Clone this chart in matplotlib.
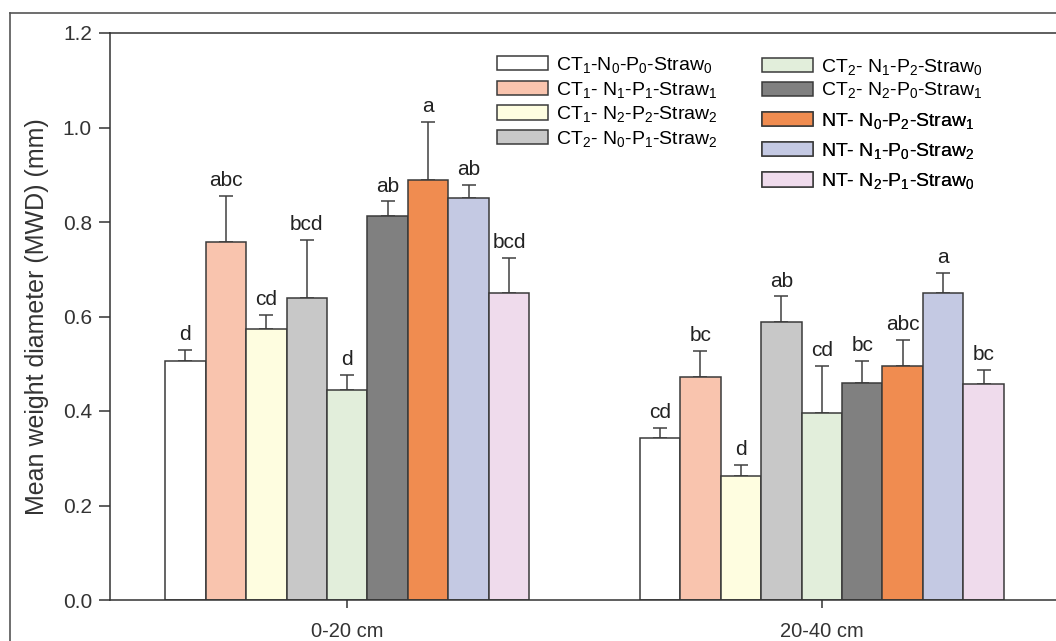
import numpy as np
import matplotlib
matplotlib.use('Agg')
import matplotlib.pyplot as plt
from matplotlib.lines import Line2D

plt.rcParams['font.family'] = ['Liberation Sans', 'DejaVu Sans']
plt.rcParams['mathtext.fontset'] = 'custom'
plt.rcParams['mathtext.rm'] = 'Liberation Sans'
plt.rcParams['mathtext.it'] = 'Liberation Sans'

# Data
depths = ['0-20 cm', '20-40 cm']
treatments = [
    r'CT$_\mathrm{1}$-N$_\mathrm{0}$-P$_\mathrm{0}$-Straw$_\mathrm{0}$',
    r'CT$_\mathrm{1}$- N$_\mathrm{1}$-P$_\mathrm{1}$-Straw$_\mathrm{1}$',
    r'CT$_\mathrm{1}$- N$_\mathrm{2}$-P$_\mathrm{2}$-Straw$_\mathrm{2}$',
    r'CT$_\mathrm{2}$- N$_\mathrm{0}$-P$_\mathrm{1}$-Straw$_\mathrm{2}$',
    r'CT$_\mathrm{2}$- N$_\mathrm{1}$-P$_\mathrm{2}$-Straw$_\mathrm{0}$',
    r'CT$_\mathrm{2}$- N$_\mathrm{2}$-P$_\mathrm{0}$-Straw$_\mathrm{1}$',
    r'NT- N$_\mathrm{0}$-P$_\mathrm{2}$-Straw$_\mathrm{1}$',
    r'NT- N$_\mathrm{1}$-P$_\mathrm{0}$-Straw$_\mathrm{2}$',
    r'NT- N$_\mathrm{2}$-P$_\mathrm{1}$-Straw$_\mathrm{0}$',
]
colors = ['#ffffff', '#f9c4ae', '#fefde0', '#c8c8c8', '#e2eedb',
          '#808080', '#f08c50', '#c4c9e3', '#efdbec']

mwd_0_20 = [0.506, 0.758, 0.574, 0.639, 0.444, 0.813, 0.889, 0.851, 0.650]
err_0_20 = [0.023, 0.097, 0.029, 0.123, 0.032, 0.031, 0.123, 0.027, 0.074]
let_0_20 = ['d', 'abc', 'cd', 'bcd', 'd', 'ab', 'a', 'ab', 'bcd']

mwd_20_40 = [0.343, 0.472, 0.262, 0.588, 0.396, 0.459, 0.495, 0.650, 0.457]
err_20_40 = [0.021, 0.055, 0.024, 0.055, 0.099, 0.047, 0.055, 0.042, 0.030]
let_20_40 = ['cd', 'bc', 'd', 'ab', 'cd', 'bc', 'abc', 'a', 'bc']

means = np.array([mwd_0_20, mwd_20_40])
errs = np.array([err_0_20, err_20_40])
letters = [let_0_20, let_20_40]

fig = plt.figure(figsize=(10.56, 6.41), dpi=100)
W, H = 1056, 641
ax = fig.add_axes([110 / W, (H - 600) / H, 949 / W, 567 / H])

x = np.arange(len(depths))
w = 0.0853
edge = '#3a3a3a'
bars = []
for i in range(len(treatments)):
    xi = x + (i - 4) * w
    b = ax.bar(xi, means[:, i], w, color=colors[i], edgecolor=edge,
               linewidth=1.1, label=treatments[i], zorder=2)
    bars.append(b)
    ax.errorbar(xi, means[:, i], yerr=[np.zeros(2), errs[:, i]], fmt='none',
                ecolor='#404040', elinewidth=1.1, capsize=5, capthick=1.1, zorder=1)
    for j in range(len(depths)):
        ax.text(xi[j], means[j, i] + errs[j, i] + 0.012, letters[j][i],
                ha='center', va='bottom', fontsize=15, color='#222222')

ax.set_xlim(-0.5, 1.5)
ax.set_ylim(0, 1.2)
ax.set_yticks(np.arange(0, 1.21, 0.2))
ax.set_yticklabels(['%.1f' % v for v in np.arange(0, 1.21, 0.2)])
ax.set_xticks(x)
ax.set_xticklabels(depths)
ax.tick_params(axis='y', direction='out', length=8, width=1.1, labelsize=15,
               colors='#333333', pad=5)
ax.tick_params(axis='x', direction='out', length=6, width=1.1, labelsize=14.5,
               colors='#333333', pad=10)
ax.set_ylabel('Mean weight diameter (MWD) (mm)', fontsize=18, color='#333333',
              labelpad=10)
for s in ['left', 'bottom', 'top']:
    ax.spines[s].set_color('#333333')
    ax.spines[s].set_linewidth(1.1)
ax.spines['right'].set_visible(False)

# Legend, split in blocks to follow the spacing of the original
def make_leg(items, x0, y0, spacing):
    leg = ax.legend([bars[k] for k in items], [treatments[k] for k in items],
                    loc='upper left', bbox_to_anchor=(x0 / W, 1 - y0 / H),
                    bbox_transform=fig.transFigure, frameon=False, fontsize=14,
                    handlelength=2.6, handleheight=0.75, handletextpad=0.45,
                    labelspacing=spacing, borderaxespad=0, borderpad=0)
    ax.add_artist(leg)
    return leg

make_leg([0, 1, 2, 3], 497, 55, 0.24)
make_leg([4, 5], 762, 57, 0.18)
make_leg([6, 7, 8], 762, 111, 0.52)

# frame lines around the figure
fig.add_artist(Line2D([10 / W, 1], [1 - 13 / H, 1 - 13 / H], color='#555555', lw=1.2,
                      transform=fig.transFigure))
fig.add_artist(Line2D([10 / W, 10 / W], [0, 1 - 13 / H], color='#555555', lw=1.2,
                      transform=fig.transFigure))

fig.savefig('out.png', dpi=100)
